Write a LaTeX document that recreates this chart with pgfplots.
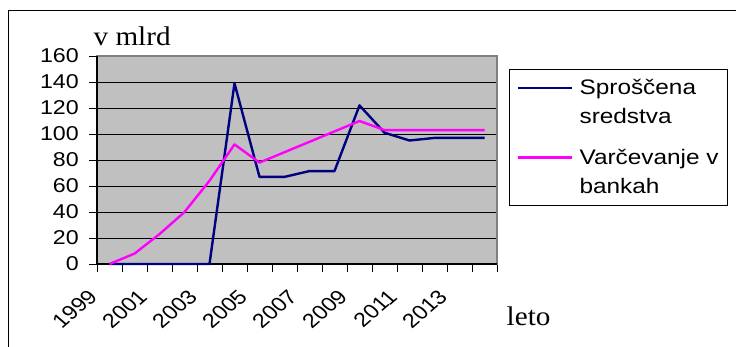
\documentclass[border=0pt]{standalone}
\usepackage{fontspec}
\setmainfont{Liberation Sans}[FakeStretch=1.16]
\newfontfamily\plainsans{Liberation Sans}
\newfontfamily\serifw{Liberation Serif}[FakeStretch=1.08]
\usepackage{pgfplots}
\pgfplotsset{compat=1.18}
\definecolor{navyline}{RGB}{0,0,128}
\definecolor{magline}{RGB}{255,0,255}
\definecolor{plotgray}{RGB}{192,192,192}
\definecolor{bordergray}{RGB}{128,128,128}
\begin{document}
\begin{tikzpicture}[x=1pt,y=1pt]
\useasboundingbox (0,0) rectangle (736,346);
\fill[white] (0,0) rectangle (736,346);
\draw[line width=0.9pt] (8,-20) -- (8,336) -- (760,336);
\begin{axis}[
  at={(97pt,82pt)}, anchor=south west,
  scale only axis, width=400pt, height=208pt,
  xmin=0, xmax=16, ymin=0, ymax=160,
  clip=false,
  axis background/.style={fill=plotgray},
  axis line style={draw=bordergray, line width=1.6pt},
  xtick={0,...,16},
  xticklabels={1999,,2001,,2003,,2005,,2007,,2009,,2011,,2013,,},
  ytick={0,20,...,160},
  ymajorgrids, grid style={black, line width=0.9pt},
  tick align=outside, major tick length=8pt,
  xtick pos=bottom, ytick pos=left,
  tick style={black, line width=0.9pt},
  /pgf/number format/assume math mode=true,
  yticklabel style={font=\fontsize{20}{24}\selectfont, anchor=east, inner sep=0pt, xshift=-10pt},
  xticklabel style={font=\plainsans\fontsize{20}{24}\selectfont, anchor=north east, inner sep=0pt, xshift=-10pt, yshift=-16pt, cm={0.820,0.707,-0.820,0.707,(0pt,0pt)}},
  legend style={at={(1.03,0.9375)}, anchor=north west, draw=black, line width=0.8pt, fill=white,
    font=\fontsize{21}{29}\selectfont, cells={align=left, anchor=west, inner sep=0pt},
    inner xsep=7pt, inner ysep=8pt, row sep=20pt, column sep=4.8pt},
  legend image code/.code={\draw[#1] (0pt,14.5pt) -- (54pt,14.5pt);},
]
\draw[black, line width=1.2pt] (rel axis cs:0,1) -- (rel axis cs:0,0) -- (rel axis cs:1,0);
\addplot[navyline, line width=2.4pt, line join=round] coordinates {
(0.5,0) (1.5,0) (2.5,0) (3.5,0) (4.5,0) (5.5,139) (6.5,67) (7.5,67)
(8.5,71.5) (9.5,71.5) (10.5,122) (11.5,101) (12.5,95) (13.5,97) (14.5,97) (15.5,97)};
\addlegendentry{Sproščena\\sredstva}
\addplot[magline, line width=2.4pt, line join=round] coordinates {
(0.5,0) (1.5,8) (2.5,23) (3.5,40) (4.5,64) (5.5,92) (6.5,78) (7.5,86)
(8.5,94) (9.5,102) (10.5,110) (11.5,103) (12.5,103) (13.5,103) (14.5,103) (15.5,103)};
\addlegendentry{Varčevanje v\\bankah}
\end{axis}
\node[anchor=base west, inner sep=0pt, font=\serifw\fontsize{27}{30}\selectfont] at (93.5,300.7) {v mlrd};
\node[anchor=base west, inner sep=0pt, font=\serifw\fontsize{27}{30}\selectfont] at (506.5,21) {leto};
\end{tikzpicture}
\end{document}
